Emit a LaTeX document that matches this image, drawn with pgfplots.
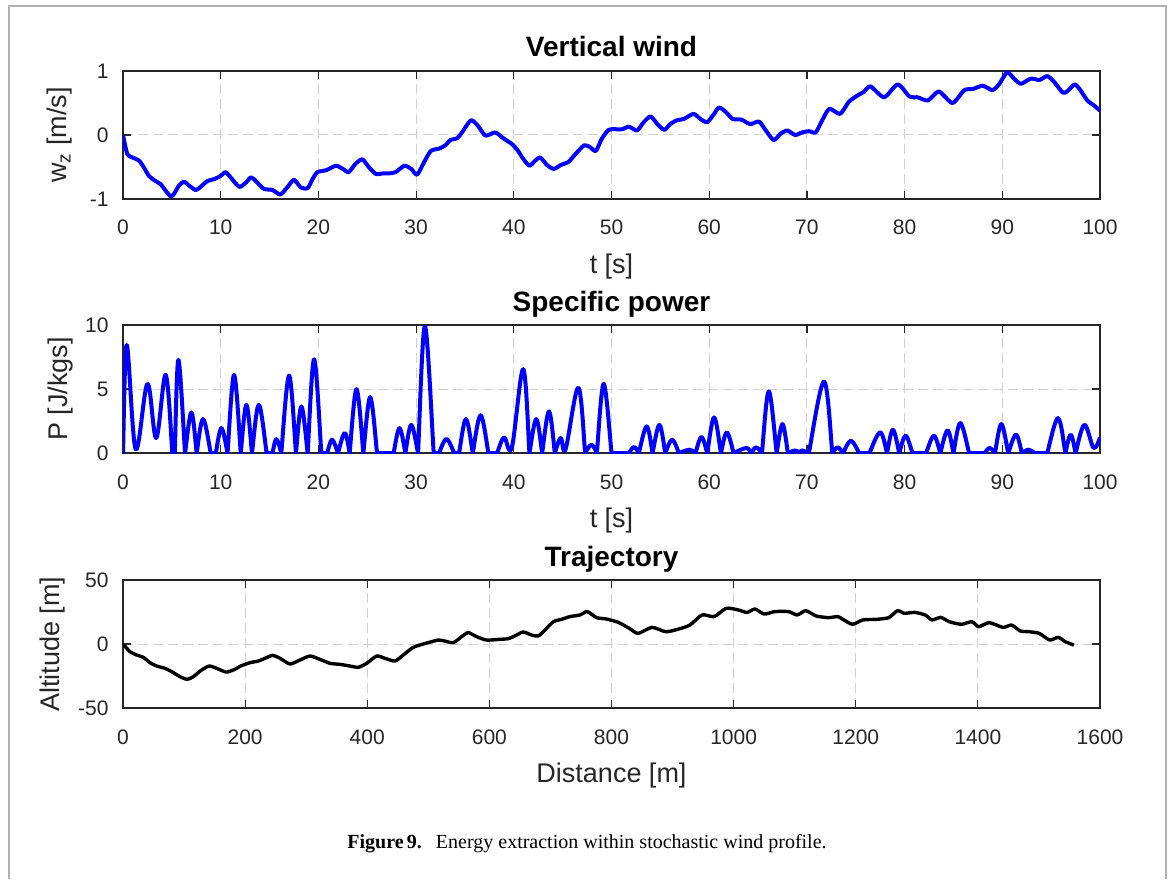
\documentclass[border=0pt]{standalone}
\usepackage{pgfplots}
\pgfplotsset{compat=1.18}
\usepackage{fontspec}
\setmainfont{Liberation Sans}
\newfontfamily\capfont{Liberation Serif}

\pgfplotsset{
  matlab/.style = {
    scale only axis,
    width = 488.5pt,
    height = 64pt,
    anchor = south west,
    axis line style = {draw = black!85, line width = 0.6pt},
    tick align = inside,
    xtick pos = both,
    ytick pos = both,
    major tick length = 4pt,
    every tick/.style = {black!85, line width = 0.6pt},
    grid = major,
    major grid style = {dash pattern = on 5pt off 2.5pt, black!18, line width = 0.5pt},
    tick label style = {font = \fontsize{10.5}{12}\selectfont, text = black!85},
    /pgf/number format/assume math mode = true,
    /pgf/number format/1000 sep = {},
    xticklabel style = {anchor = base, yshift = -18pt},
    yticklabel style = {anchor = east, inner sep = 0pt, xshift = -7pt},
    label style = {font = \fontsize{13.5}{15}\selectfont, text = black!85},
    xlabel style = {at = {(axis description cs:0.5,0)}, anchor = base, yshift = -37pt},
    every axis title shift = 0pt,
    title style = {font = \bfseries\fontsize{14}{16}\selectfont, at = {(axis description cs:0.5,1)}, anchor = base, yshift = 7pt},
  },
}

\begin{document}
\begin{tikzpicture}
  \path[use as bounding box] (0,0) rectangle (585pt,439.5pt);
  \draw[black!30, line width = 0.6pt] (4.5pt,0) -- (4.5pt,436.5pt) -- (583pt,436.5pt) -- (583pt,0);

  % vertical wind
  \begin{axis}[
    matlab,
    at = {(61.5pt,340pt)},
    xmin = 0, xmax = 100, xtick distance = 10,
    ymin = -1, ymax = 1, ytick = {-1,0,1},
    title = {Vertical wind},
    xlabel = {t [s]},
    ylabel = {w$_{\mathrm{z}}$ [m/s]},
    ylabel style = {at = {(axis description cs:-0.058,0.5)}, anchor = base},
  ]
    \addplot[blue, line width = 2pt, line join = round, smooth, tension = 0.4] table {
      0 0
      0.44 -0.30
      0.96 -0.35
      1.64 -0.40
      2.15 -0.51
      2.66 -0.64
      3.34 -0.72
      3.86 -0.77
      4.37 -0.87
      4.88 -0.96
      5.22 -0.92
      5.73 -0.79
      6.25 -0.73
      6.76 -0.79
      7.44 -0.86
      7.95 -0.81
      8.63 -0.72
      9.32 -0.69
      10.0 -0.64
      10.5 -0.58
      11.0 -0.66
      11.9 -0.81
      12.6 -0.74
      13.1 -0.66
      13.6 -0.72
      14.4 -0.84
      15.3 -0.86
      16.1 -0.93
      16.8 -0.82
      17.5 -0.70
      18.2 -0.82
      18.9 -0.83
      19.4 -0.69
      19.9 -0.58
      20.8 -0.55
      21.8 -0.48
      22.5 -0.53
      23.1 -0.58
      23.8 -0.45
      24.5 -0.38
      25.2 -0.51
      25.9 -0.61
      26.6 -0.60
      27.2 -0.60
      27.9 -0.58
      28.8 -0.48
      29.5 -0.53
      30.1 -0.62
      30.8 -0.43
      31.5 -0.25
      32.4 -0.21
      33.0 -0.16
      33.5 -0.08
      34.2 -0.05
      34.7 0.04
      35.6 0.23
      36.3 0.15
      37.1 -0.01
      38.1 0.04
      39.0 -0.06
      39.8 -0.14
      40.3 -0.22
      41.0 -0.38
      41.6 -0.48
      42.2 -0.40
      42.7 -0.35
      43.4 -0.47
      44.1 -0.53
      44.8 -0.47
      45.6 -0.42
      46.3 -0.30
      47.2 -0.16
      47.8 -0.19
      48.4 -0.25
      49.0 -0.06
      49.7 0.08
      50.4 0.09
      51.1 0.09
      51.8 0.13
      52.6 0.07
      53.3 0.20
      54.0 0.29
      54.7 0.17
      55.4 0.08
      56.0 0.17
      56.7 0.23
      57.4 0.25
      58.4 0.33
      59.1 0.25
      59.8 0.20
      60.5 0.33
      61.0 0.43
      61.7 0.36
      62.4 0.25
      63.3 0.24
      64.2 0.17
      65.1 0.21
      65.8 0.07
      66.6 -0.08
      67.3 0.02
      68.0 0.07
      68.8 0.00
      69.5 0.04
      70.2 0.06
      70.9 0.04
      71.6 0.24
      72.3 0.41
      73.4 0.33
      74.3 0.52
      75.2 0.62
      75.8 0.67
      76.5 0.76
      77.9 0.59
      79.3 0.79
      80.5 0.60
      81.3 0.59
      82.4 0.54
      83.5 0.68
      84.9 0.50
      86.1 0.70
      87.0 0.72
      88.0 0.77
      89.0 0.70
      89.7 0.80
      90.5 0.98
      91.2 0.88
      91.9 0.80
      92.9 0.88
      93.8 0.86
      94.6 0.92
      95.3 0.83
      96.2 0.66
      96.7 0.69
      97.4 0.79
      97.9 0.72
      98.7 0.54
      99.4 0.46
      100 0.38
    };
  \end{axis}

  % specific power (zeros listed twice so the curve meets zero in a cusp)
  \begin{axis}[
    matlab,
    at = {(61.5pt,213pt)},
    xmin = 0, xmax = 100, xtick distance = 10,
    ymin = 0, ymax = 10, ytick = {0,5,10},
    title = {Specific power},
    xlabel = {t [s]},
    ylabel = {P [J/kgs]},
    ylabel style = {at = {(axis description cs:-0.057,0.5)}, anchor = base},
  ]
    \addplot[blue, line width = 2pt, line join = round, smooth, tension = 0.6] table {
      0 0
      0 0
      0.38 8.44
      1.3 0.3
      2.5 5.4
      3.4 1.17
      4.37 6.1
      5.05 0
      5.05 0
      5.3 0
      5.3 0
      5.67 7.27
      6.35 0
      6.35 0
      7.0 3.17
      7.54 0
      7.54 0
      8.19 2.65
      8.98 0
      8.98 0
      9.5 0
      9.5 0
      10.07 1.95
      10.7 0
      10.7 0
      11.37 6.1
      12.05 0
      12.05 0
      12.63 3.77
      13.2 0
      13.2 0
      13.9 3.77
      14.7 0
      14.7 0
      15.3 0
      15.3 0
      15.7 1.09
      16.2 0
      16.2 0
      17.0 6.05
      17.7 0
      17.7 0
      18.26 3.64
      18.9 0
      18.9 0
      19.56 7.32
      20.3 0
      20.3 0
      20.9 0
      20.9 0
      21.4 1.04
      22.0 0
      22.0 0
      22.7 1.56
      23.2 0
      23.2 0
      23.9 4.99
      24.6 0
      24.6 0
      25.3 4.36
      26.0 0
      26.0 0
      27.7 0
      27.7 0
      28.3 1.95
      28.9 0
      28.9 0
      29.5 2.2
      30.2 0
      30.2 0
      30.9 9.92
      31.8 0
      31.8 0
      32.35 0
      32.35 0
      33.1 1.09
      33.9 0
      33.9 0
      34.4 0
      34.4 0
      35.1 2.65
      35.8 0
      35.8 0
      36.6 2.95
      37.4 0
      37.4 0
      38.3 0
      38.3 0
      39.0 1.22
      39.8 0.44
      40.96 6.55
      41.6 0
      41.6 0
      42.3 2.65
      42.9 0
      42.9 0
      43.6 3.25
      44.2 0
      44.2 0
      44.8 1.17
      45.3 0.3
      46.6 5.1
      47.3 0
      47.3 0
      47.95 0.65
      48.5 0
      48.5 0
      49.2 5.4
      50.0 0
      50.0 0
      51.8 0
      51.8 0
      52.3 0.47
      52.8 0
      52.8 0
      53.6 2.08
      54.2 0
      54.2 0
      54.9 2.2
      55.5 0
      55.5 0
      56.2 1.04
      56.9 0
      56.9 0
      58.0 0.26
      58.6 0
      58.6 0
      59.2 1.25
      59.8 0
      59.8 0
      60.5 2.78
      61.2 0
      61.2 0
      61.8 1.61
      62.5 0
      62.5 0
      63.8 0.39
      64.3 0
      64.3 0
      64.8 0.44
      65.4 0
      65.4 0
      66.1 4.81
      66.9 0
      66.9 0
      67.5 2.26
      68.05 0
      68.05 0
      68.8 0.2
      69.2 0.05
      69.5 0.2
      70.2 0
      70.2 0
      71.75 5.58
      72.6 0
      72.6 0
      73.15 0.44
      73.7 0
      73.7 0
      74.5 0.96
      75.35 0
      75.35 0
      76.4 0
      76.4 0
      77.5 1.61
      78.2 0
      78.2 0
      78.8 1.82
      79.45 0
      79.45 0
      80.1 1.35
      80.8 0
      80.8 0
      82.2 0
      82.2 0
      83.0 1.35
      83.65 0
      83.65 0
      84.4 1.77
      85.0 0
      85.0 0
      85.7 2.34
      86.6 0
      86.6 0
      88.2 0
      88.2 0
      88.7 0.39
      89.25 0
      89.25 0
      89.9 2.26
      90.6 0
      90.6 0
      91.4 1.43
      92.0 0
      92.0 0
      92.7 0.26
      93.3 0
      93.3 0
      94.6 0
      94.6 0
      95.7 2.73
      96.45 0
      96.45 0
      97.0 1.43
      97.5 0
      97.5 0
      98.4 2.2
      99.35 0.39
      100 1.22
    };
  \end{axis}

  % trajectory
  \begin{axis}[
    matlab,
    at = {(61.5pt,85.5pt)},
    xmin = 0, xmax = 1600, xtick distance = 200,
    ymin = -50, ymax = 50, ytick = {-50,0,50},
    title = {Trajectory},
    xlabel = {Distance [m]},
    ylabel = {Altitude [m]},
    ylabel style = {at = {(axis description cs:-0.0645,0.5)}, anchor = base},
  ]
    \addplot[black, line width = 1.7pt, line join = round, smooth, tension = 0.4] table {
      0 0
      11.5 -6.0
      22.4 -8.6
      33.3 -10.4
      44.2 -14.6
      55.1 -17.2
      68.8 -19.0
      79.7 -21.6
      93.3 -25.5
      105.3 -27.6
      115.2 -25.5
      128.8 -20.3
      141.3 -17.2
      153.4 -19.0
      168.7 -21.9
      180.7 -20.3
      194.3 -16.9
      208.0 -14.6
      221.6 -13.3
      232.5 -11.2
      245.1 -8.9
      257.1 -11.2
      273.5 -15.6
      289.8 -12.5
      306.2 -9.4
      322.6 -12.0
      339.0 -15.1
      355.3 -15.9
      371.7 -17.2
      385.4 -18.2
      399.0 -15.1
      415.4 -9.4
      429.0 -11.2
      445.4 -13.3
      459.0 -8.6
      475.4 -2.6
      491.7 0
      505.4 1.8
      516.3 3.1
      527.2 2.3
      540.9 1.0
      554.5 5.7
      565.4 8.9
      579.1 5.7
      595.5 3.1
      614.6 3.6
      631.0 4.2
      644.6 7.0
      655.5 9.4
      669.2 7.0
      680.1 6.3
      691.0 10.9
      704.6 17.4
      718.3 19.3
      731.9 21.4
      748.3 22.7
      760.3 25.3
      775.6 20.6
      792.0 19.5
      811.1 16.9
      829.3 12.2
      843.5 8.3
      866.2 13.0
      888.8 9.6
      908.6 11.5
      928.4 14.8
      948.3 22.7
      968.1 21.4
      987.9 27.9
      1007.7 26.6
      1021.9 24.7
      1034.9 27.3
      1050.2 23.4
      1067.2 25.3
      1089.8 25.3
      1104.0 22.7
      1118.2 26.0
      1135.2 21.9
      1155.0 20.6
      1170.9 21.4
      1180.5 18.8
      1194.7 15.4
      1211.7 18.8
      1234.3 19.3
      1254.2 20.6
      1268.3 26.0
      1279.6 24.0
      1296.6 24.7
      1313.6 22.7
      1325.0 18.8
      1339.1 20.8
      1353.3 17.4
      1373.1 15.4
      1390.1 17.4
      1401.4 13.5
      1418.4 16.7
      1441.1 13.0
      1455.2 14.8
      1469.4 10.2
      1483.5 9.6
      1500.5 8.3
      1517.5 3.1
      1531.7 5.2
      1543.0 1.8
      1557.2 -0.8
    };
  \end{axis}

  \node[font = \capfont\fontsize{10}{12}\selectfont, anchor = base] at (293.5pt,15.5pt)
    {\textbf{Figure\,9.}\hspace{0.7em}Energy extraction within stochastic wind profile.};
\end{tikzpicture}
\end{document}
